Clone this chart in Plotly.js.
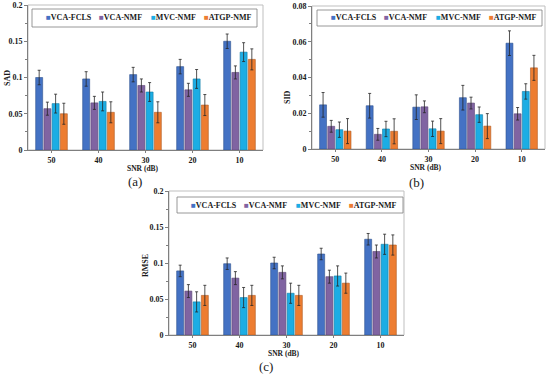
<!DOCTYPE html>
<html>
<head>
<meta charset="utf-8">
<script src="https://cdn.plot.ly/plotly-3.0.1.min.js"></script>
<style>html,body{margin:0;padding:0;background:#fff;}#chart{width:550px;height:374px;}</style>
</head>
<body>
<div id="chart"></div>
<script>
// ---- data ----
const categories = ['50', '40', '30', '20', '10'];
const methods = ['VCA-FCLS', 'VCA-NMF', 'MVC-NMF', 'ATGP-NMF'];

// (a) SAD
const sadFCLS   = [0.100, 0.098, 0.104, 0.115, 0.150];
const sadVCANMF = [0.057, 0.065, 0.089, 0.083, 0.107];
const sadMVC    = [0.064, 0.067, 0.080, 0.098, 0.135];
const sadATGP   = [0.050, 0.052, 0.052, 0.062, 0.125];
const sadErrFCLS   = [0.010, 0.010, 0.010, 0.010, 0.010];
const sadErrVCANMF = [0.009, 0.009, 0.009, 0.009, 0.009];
const sadErrMVC    = [0.013, 0.013, 0.013, 0.013, 0.013];
const sadErrATGP   = [0.0145, 0.0145, 0.0145, 0.0145, 0.0145];

// (b) SID
const sidFCLS   = [0.0247, 0.0242, 0.0234, 0.0287, 0.0592];
const sidVCANMF = [0.0127, 0.0082, 0.0236, 0.0257, 0.0197];
const sidMVC    = [0.0108, 0.0112, 0.0113, 0.0192, 0.0322];
const sidATGP   = [0.0100, 0.0099, 0.0100, 0.0128, 0.0454];
const sidErrFCLS   = [0.0069, 0.0069, 0.0069, 0.0069, 0.0069];
const sidErrVCANMF = [0.0033, 0.0033, 0.0033, 0.0033, 0.0035];
const sidErrMVC    = [0.0043, 0.0043, 0.0043, 0.0043, 0.0043];
const sidErrATGP   = [0.0070, 0.0070, 0.0070, 0.0070, 0.0070];

// (c) RMSE
const rmseFCLS   = [0.089, 0.099, 0.100, 0.1125, 0.133];
const rmseVCANMF = [0.061, 0.079, 0.087, 0.081, 0.116];
const rmseMVC    = [0.046, 0.052, 0.058, 0.082, 0.126];
const rmseATGP   = [0.055, 0.055, 0.055, 0.072, 0.125];
const rmseErrFCLS   = [0.008, 0.008, 0.008, 0.008, 0.008];
const rmseErrVCANMF = [0.009, 0.009, 0.009, 0.009, 0.009];
const rmseErrMVC    = [0.014, 0.014, 0.014, 0.014, 0.014];
const rmseErrATGP   = [0.014, 0.014, 0.014, 0.014, 0.014];

const yTitles = ['SAD', 'SID', 'RMSE'];
const xTitle = 'SNR (dB)';
const panelLabels = ['(a)', '(b)', '(c)'];

// ---- styling ----
const colors = ['#4472C4', '#8064A2', '#1CADE4', '#ED7D31'];
const edges  = ['#2F528F', '#5C4776', '#137CA4', '#AE5A21'];
const W = 550, H = 374;
const px = v => v / W;
const py = v => 1 - v / H;
const serif = 'Liberation Serif, Times New Roman, serif';
const txt = '#1a1a1a';

const panels = [
  {vals: [sadFCLS, sadVCANMF, sadMVC, sadATGP], errs: [sadErrFCLS, sadErrVCANMF, sadErrMVC, sadErrATGP],
   x0: 28, x1: 263, y0: 5, y1: 150, ymax: 0.2, dtick: 0.05,
   leg: [32, 257, 9, 27], ytx: 8, yty: 78, lab: [135, 181]},
  {vals: [sidFCLS, sidVCANMF, sidMVC, sidATGP], errs: [sidErrFCLS, sidErrVCANMF, sidErrMVC, sidErrATGP],
   x0: 312, x1: 545, y0: 6, y1: 149, ymax: 0.08, dtick: 0.02,
   leg: [317, 542, 10, 26], ytx: 288, yty: 97, lab: [416, 182]},
  {vals: [rmseFCLS, rmseVCANMF, rmseMVC, rmseATGP], errs: [rmseErrFCLS, rmseErrVCANMF, rmseErrMVC, rmseErrATGP],
   x0: 169, x1: 404, y0: 191, y1: 335, ymax: 0.2, dtick: 0.05,
   leg: [177, 403, 197, 213], ytx: 145, yty: 266, lab: [266, 365]}
];

const legOffsets = [12, 65, 117, 170];

const traces = [];
const layout = {
  width: W, height: H,
  margin: {l: 0, r: 0, t: 0, b: 0},
  paper_bgcolor: '#fff', plot_bgcolor: '#fff',
  showlegend: false,
  barmode: 'group', bargap: 0.3, bargroupgap: 0.15,
  font: {family: serif, color: txt},
  shapes: [], annotations: []
};

panels.forEach((p, k) => {
  const sfx = k === 0 ? '' : String(k + 1);
  const xa = 'x' + sfx, ya = 'y' + sfx;
  methods.forEach((m, i) => {
    traces.push({
      type: 'bar', name: m, x: categories, y: p.vals[i],
      xaxis: xa, yaxis: ya,
      marker: {color: colors[i], line: {color: edges[i], width: 0.6}},
      error_y: {type: 'data', array: p.errs[i], visible: true, color: '#262626', thickness: 0.8, width: 1.5},
      hoverinfo: 'skip'
    });
  });
  layout['xaxis' + sfx] = {
    domain: [px(p.x0), px(p.x1)], anchor: ya, type: 'category',
    range: [-0.5, 4.5], showline: true, linecolor: '#7f7f7f', linewidth: 1,
    ticks: 'outside', ticklen: 2, tickcolor: '#7f7f7f',
    tickfont: {family: serif, size: 8, color: txt, weight: 'bold'},
    showgrid: false, zeroline: false, fixedrange: true
  };
  layout['yaxis' + sfx] = {
    domain: [py(p.y1), py(p.y0)], anchor: xa,
    range: [0, p.ymax], dtick: p.dtick, tick0: 0,
    showline: true, linecolor: '#7f7f7f', linewidth: 1,
    ticks: 'outside', ticklen: 3, tickcolor: '#7f7f7f',
    minor: {ticks: 'outside', ticklen: 2, dtick: p.dtick / 2, tickcolor: '#7f7f7f'},
    tickfont: {family: serif, size: 8, color: txt, weight: 'bold'},
    showgrid: false, zeroline: false, fixedrange: true
  };
  // plot-area frame
  layout.shapes.push({type: 'rect', xref: xa + ' domain', yref: ya + ' domain', x0: 0, x1: 1, y0: 0, y1: 1,
    line: {color: '#bfbfbf', width: 1}, layer: 'below'});
  // legend box
  const [lx0, lx1, ly0, ly1] = p.leg;
  layout.shapes.push({type: 'rect', xref: 'paper', yref: 'paper', x0: px(lx0), x1: px(lx1), y0: py(ly1), y1: py(ly0),
    line: {color: '#7f7f7f', width: 0.8}, fillcolor: '#fff'});
  methods.forEach((m, i) => {
    layout.annotations.push({
      xref: 'paper', yref: 'paper', x: px(lx0 + legOffsets[i]), y: py((ly0 + ly1) / 2),
      xanchor: 'left', yanchor: 'middle', showarrow: false,
      text: '<span style="color:' + colors[i] + '">■</span>' + m,
      font: {family: serif, size: 8, color: txt, weight: 'bold'}
    });
  });
  // axis titles
  layout.annotations.push({
    xref: 'paper', yref: 'paper', x: px(p.ytx), y: py(p.yty), textangle: -90,
    xanchor: 'center', yanchor: 'middle', showarrow: false, text: yTitles[k],
    font: {family: serif, size: 8, color: txt, weight: 'bold'}
  });
  layout.annotations.push({
    xref: 'paper', yref: 'paper', x: px((p.x0 + p.x1) / 2 - 3), y: py(p.y1 + 18),
    xanchor: 'center', yanchor: 'middle', showarrow: false, text: xTitle,
    font: {family: serif, size: 7.5, color: txt, weight: 'bold'}
  });
  layout.annotations.push({
    xref: 'paper', yref: 'paper', x: px(p.lab[0]), y: py(p.lab[1] + 1),
    xanchor: 'center', yanchor: 'middle', showarrow: false, text: panelLabels[k],
    font: {family: serif, size: 13, color: txt}
  });
});

Plotly.newPlot('chart', traces, layout, {staticPlot: true, displayModeBar: false});
</script>
</body>
</html>
